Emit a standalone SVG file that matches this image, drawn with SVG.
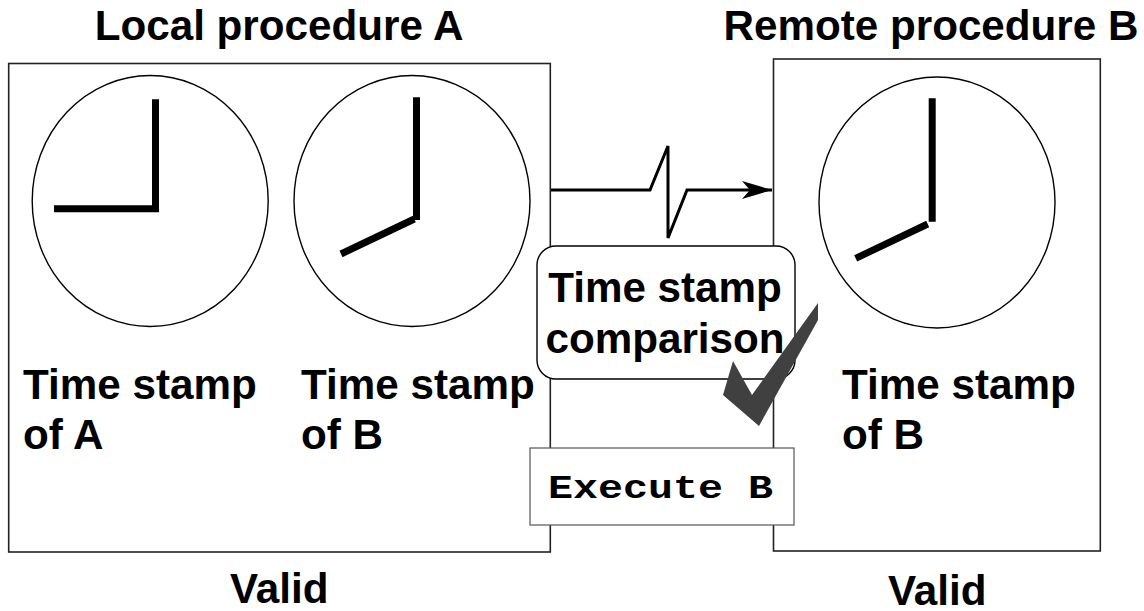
<svg xmlns="http://www.w3.org/2000/svg" width="1144" height="611" viewBox="0 0 1144 611">
<style>
.box{fill:#fff;stroke:#222;stroke-width:1.6}
.t{font-family:"Liberation Sans",Arial,sans-serif;font-weight:bold;font-size:42.2px;fill:#000}
.hand{fill:none;stroke:#000;stroke-width:7}
.face{fill:#fff;stroke:#000;stroke-width:1.4}
.line{fill:none;stroke:#000;stroke-width:3}
</style>
<defs><marker id="a" markerWidth="32" markerHeight="20" refX="30" refY="9" orient="auto" markerUnits="userSpaceOnUse"><path d="M0 0L30 9L0 18L8 9Z" fill="#000"/></marker></defs>
<rect width="1144" height="611" fill="#fff"/>
<g id="titleA"><text class="t" x="94.7" y="40">Local procedure A</text></g>
<g id="titleB"><text class="t" x="723.5" y="40">Remote procedure B</text></g>
<g id="procA"><rect class="box" x="8.7" y="63.5" width="541.6" height="488.5"/></g>
<g id="procB"><rect class="box" x="773.5" y="59" width="326.8" height="492"/></g>
<g id="clockA"><ellipse class="face" cx="150.2" cy="201" rx="118" ry="125.5"/><path class="hand" d="M155.5 99.3V208.8H54"/></g>
<g id="clockB1"><ellipse class="face" cx="412" cy="201" rx="118" ry="125.5"/><path class="hand" d="M416.5 97.3V220M414.3 219L341 254"/></g>
<g id="clockB2"><ellipse class="face" cx="937" cy="202.5" rx="118" ry="125.5"/><path class="hand" d="M932.2 98.3V221.7M927.7 224L855.7 258.3"/></g>
<g id="connectors"><path class="line" marker-end="url(#a)" d="M551 190H650L668 146V238L687 190H772"/></g>
<g id="compare"><rect class="face" x="537" y="246" width="258" height="133" rx="19"/><text class="t" x="665" y="302" text-anchor="middle">Time stamp</text><text class="t" x="665" y="353" text-anchor="middle">comparison</text></g>
<g id="exec"><rect x="530" y="448" width="264" height="77" fill="#fff" stroke="#555" stroke-width="1.2"/><text x="548" y="498" font-family="Liberation Mono,monospace" font-weight="bold" font-size="34" fill="#000" textLength="225" lengthAdjust="spacingAndGlyphs">Execute B</text></g>
<g id="check"><path fill="#404040" d="M733 361L752 395L818 303V320L759 426L723 395Z"/></g>
<g id="labels">
<text class="t" x="23" y="399.3">Time stamp</text><text class="t" x="23" y="449">of A</text>
<text class="t" x="301" y="399.3">Time stamp</text><text class="t" x="301" y="449">of B</text>
<text class="t" x="842" y="399.3">Time stamp</text><text class="t" x="842" y="449">of B</text>
<text class="t" x="230" y="603">Valid</text><text class="t" x="888" y="605">Valid</text>
</g>
</svg>
